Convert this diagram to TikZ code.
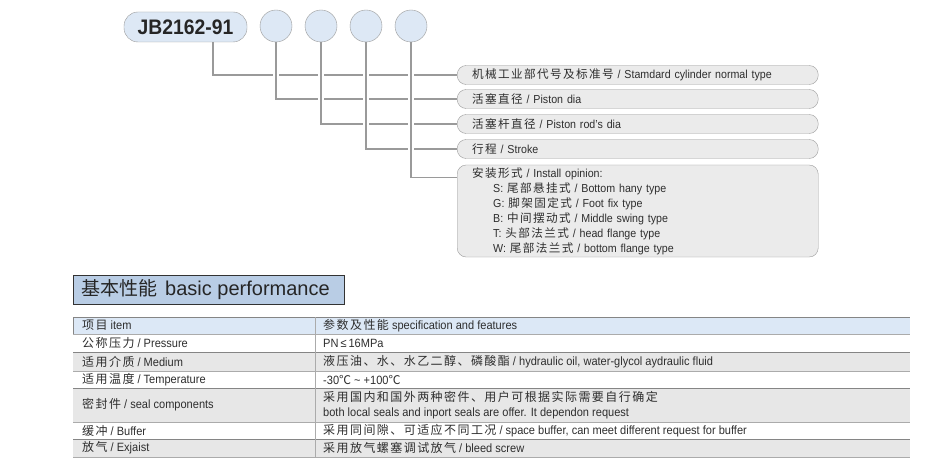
\documentclass[tikz,border=0pt]{standalone}
\usepackage{fontspec}
\setmainfont[FakeStretch=0.92]{Liberation Sans}
\newfontfamily\cjk[LetterSpace=12]{Noto Sans CJK SC}
\newfontfamily\cjkplain{Noto Sans CJK SC}
\newfontfamily\titlefont{Liberation Sans}
\newcommand{\zh}[1]{{\cjk #1}}
\definecolor{txt}{HTML}{2E2E2E}
\definecolor{linegray}{HTML}{9A9A9A}
\definecolor{bluefill}{HTML}{DDE8F5}
\definecolor{labfill}{HTML}{EBEBEB}
\definecolor{titlefill}{HTML}{B9CDE5}
\definecolor{headfill}{HTML}{DCE8F6}
\definecolor{rowfill}{HTML}{E7E7E7}
\definecolor{darkline}{HTML}{858585}
\definecolor{lightline}{HTML}{ABABAB}
\pgfdeclarelayer{paper}
\pgfdeclarelayer{wires}
\pgfsetlayers{paper,wires,main}
\begin{document}
\begin{tikzpicture}[x=1pt,y=-1pt,
  jbbox/.style={draw=linegray, fill=bluefill, rounded corners=14pt, minimum width=123pt, minimum height=30pt, inner sep=0pt, font=\fontsize{21}{21}\selectfont\bfseries, text=black!85},
  digit/.style={circle, draw=linegray, fill=bluefill, minimum size=32pt, inner sep=0pt},
  labbox/.style={draw=linegray, fill=labfill, rounded corners=9pt, anchor=west, minimum height=19pt, text width=331pt, inner xsep=15pt, inner ysep=0pt, align=left, font=\fontsize{11.6}{15}\selectfont, text=txt},
  wire/.style={draw=linegray, line width=1.4pt, preaction={draw=white, line width=6pt}},
  cell/.style={anchor=west, inner sep=0pt, font=\fontsize{12}{15}\selectfont, text=txt, align=left},
  tdark/.style={draw=darkline, line width=1pt},
  tlight/.style={draw=lightline, line width=1pt}]
\begin{pgfonlayer}{paper}
\fill[white] (0,0) rectangle (928,470);
\end{pgfonlayer}
\useasboundingbox (0,0) rectangle (928,470);

% code boxes
\node[jbbox] (jb) at (185.5,27) {JB2162-91};
\node[digit] (d1) at (276,26) {};
\node[digit] (d2) at (321,26) {};
\node[digit] (d3) at (366,26) {};
\node[digit] (d4) at (411,26) {};

% label boxes
\node[labbox] (l1) at (457,75) {\zh{机械工业部代号及标准号} / Stamdard cylinder normal type};
\node[labbox] (l2) at (457,99) {\zh{活塞直径} / Piston dia};
\node[labbox] (l3) at (457,124) {\zh{活塞杆直径} / Piston rod's dia};
\node[labbox] (l4) at (457,149) {\zh{行程} / Stroke};
\node[labbox, minimum height=92pt] (l5) at (457,211) {\zh{安装形式} / Install opinion:\\
\hspace*{21pt}S: \zh{尾部悬挂式} / Bottom hany type\\
\hspace*{21pt}G: \zh{脚架固定式} / Foot fix type\\
\hspace*{21pt}B: \zh{中间摆动式} / Middle swing type\\
\hspace*{21pt}T: \zh{头部法兰式} / head flange type\\
\hspace*{21pt}W: \zh{尾部法兰式} / bottom flange type};

% connectors
\begin{pgfonlayer}{wires}
\draw[wire] ([xshift=27.5pt]jb.south) |- (l1.west);
\draw[wire] (d1.south) |- (l2.west);
\draw[wire] (d2.south) |- (l3.west);
\draw[wire] (d3.south) |- (l4.west);
\draw[wire] (d4.south) |- ([yshift=-13pt]l5.north west);
\end{pgfonlayer}

% title
\node[draw=black!80, line width=1.2pt, fill=titlefill, minimum width=271pt, minimum height=29pt, anchor=north west, inner sep=0pt] (title) at (73,275) {};
\node[anchor=west, inner sep=0pt, text=black!85] (titletext) at (81,289.5) {{\cjkplain\fontsize{19}{19}\selectfont 基本性能}\hspace{8pt}{\titlefont\fontsize{20}{20}\selectfont basic performance}};

% table
\fill[headfill] (73,317) rectangle (910,334);
\fill[rowfill] (73,352) rectangle (910,371);
\fill[rowfill] (73,388) rectangle (910,422);
\fill[rowfill] (73,439) rectangle (910,457);
\foreach \yy in {317,352,388,439} \draw[tdark] (73,\yy) -- (910,\yy);
\foreach \yy in {334,371,422,457} \draw[tlight] (73,\yy) -- (910,\yy);
\draw[tlight] (315,317) -- (315,457);
\draw[tdark] (73,317) -- (73,334);

\node[cell] (h1) at (82,325.5) {\zh{项目} item};
\node[cell] (h2) at (323,325.5) {\zh{参数及性能} specification and features};
\node[cell] (r1a) at (82,343) {\zh{公称压力} / Pressure};
\node[cell] (r1b) at (323,343) {PN\,≤\,16MPa};
\node[cell] (r2a) at (82,361.5) {\zh{适用介质} / Medium};
\node[cell] (r2b) at (323,361.5) {\zh{液压油、水、水乙二醇、磷酸酯} / hydraulic oil, water-glycol aydraulic fluid};
\node[cell] (r3a) at (82,379.5) {\zh{适用温度} / Temperature};
\node[cell] (r3b) at (323,379.5) {-30{\cjkplain ℃} \textasciitilde\ +100{\cjkplain ℃}};
\node[cell] (r4a) at (82,405) {\zh{密封件} / seal components};
\node[cell] (r4b) at (323,405) {\zh{采用国内和国外两种密件、用户可根据实际需要自行确定}\\both local seals and inport seals are offer. It dependon request};
\node[cell] (r5a) at (82,430.5) {\zh{缓冲} / Buffer};
\node[cell] (r5b) at (323,430.5) {\zh{采用同间隙、可适应不同工况} / space buffer, can meet different request for buffer};
\node[cell] (r6a) at (82,448) {\zh{放气} / Exjaist};
\node[cell] (r6b) at (323,448) {\zh{采用放气螺塞调试放气} / bleed screw};
\end{tikzpicture}
\end{document}
